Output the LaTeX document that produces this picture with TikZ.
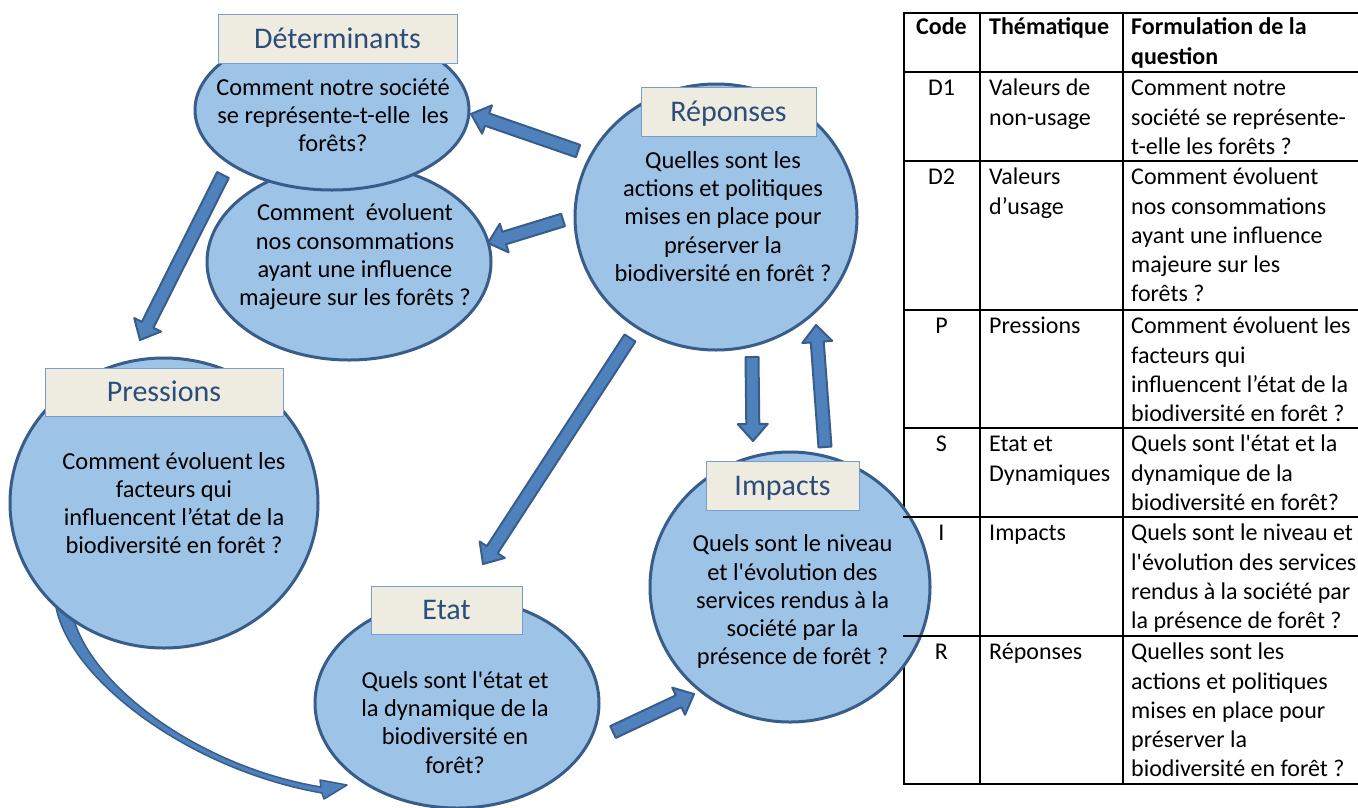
\documentclass[tikz,border=0pt]{standalone}
\usepackage{fontspec}
\setmainfont{Carlito}[Ligatures=TeXOff]
\usetikzlibrary{shapes.geometric,calc}
\definecolor{ellfill}{HTML}{9DC3E6}
\definecolor{elldraw}{HTML}{385D8A}
\definecolor{arrfill}{HTML}{4F81BD}
\definecolor{labfill}{HTML}{EEECE1}
\definecolor{labdraw}{HTML}{7A9CCB}
\definecolor{labtext}{HTML}{2C4D7A}
\newcommand\blockarrow[2]{%
  \draw[blockarr] ($(#1)!6.5pt!90:(#2)$) -- ($(#2)!17pt!(#1)!6.5pt!90:(#2)$) -- ($(#2)!17pt!(#1)!15pt!90:(#2)$) -- (#2) -- ($(#2)!17pt!(#1)!15pt!-90:(#2)$) -- ($(#2)!17pt!(#1)!6.5pt!-90:(#2)$) -- ($(#1)!6.5pt!-90:(#2)$) -- cycle;}
\begin{document}
\begin{tikzpicture}[x=1pt,y=-1pt,
  ell/.style={ellipse, draw=elldraw, fill=ellfill, line width=3pt, inner sep=0pt},
  lab/.style={draw=labdraw, fill=labfill, line width=1pt, inner sep=0pt, font=\fontsize{30}{36}\selectfont, text=labtext, text height=19.3pt, text depth=0pt},
  body/.style={align=center, anchor=north, inner sep=0pt, font=\fontsize{24.4}{28.3}\selectfont},
  blockarr/.style={draw=elldraw, fill=arrfill, line width=2pt, line join=round},
  tab/.style={align=left, anchor=north west, inner sep=0pt, font=\fontsize{24}{29.2}\selectfont},
  tabc/.style={align=center, anchor=north, inner sep=0pt, font=\fontsize{24}{29.2}\selectfont},
  tline/.style={line width=2pt, black}]
\useasboundingbox (0,0) rectangle (1358,807);
\fill[white] (0,0) rectangle (1358,807);

% table left border (under the Impacts ellipse)
\draw[tline] (904,13) -- (904,784);

% curved arrow Pressions -> Etat
\coordinate (cs) at (63,606);
\coordinate (ce) at (347,785);
\draw[blockarr, line width=1.5pt] (56,607) .. controls (70,680) and (190,770) .. (322,793)
  -- (324,799) -- (ce) -- (320,780) -- (321,787)
  .. controls (194,766) and (80,678) .. (71,606) -- cycle;

% ellipses
\node[ell, minimum width=284pt, minimum height=196pt] (D2) at (349,262) {};
\node[ell, minimum width=274pt, minimum height=160pt] (D1) at (332,110) {};
\node[ell, minimum width=282pt, minimum height=266pt] (R) at (716,217) {};
\node[ell, minimum width=308pt, minimum height=290pt] (P) at (164,503) {};
\node[ell, minimum width=284pt, minimum height=210pt] (S) at (457,703) {};
\node[ell, minimum width=280pt, minimum height=270pt] (I) at (790,587) {};

% labels
\node[lab, minimum width=239pt, minimum height=49pt] (Dl) at (337.5,38.5) {Déterminants};
\node[lab, minimum width=175pt, minimum height=49pt] (Rl) at (728.5,111.5) {Réponses};
\node[lab, minimum width=238pt, minimum height=48pt] (Pl) at (164,392) {Pressions};
\node[lab, minimum width=151pt, minimum height=48pt] (Sl) at (446.5,610) {Etat};
\node[lab, minimum width=153pt, minimum height=49pt] (Il) at (782.5,485.5) {Impacts};

% ellipse texts
\node[body] (D1t) at (333,75) {\strut Comment notre société\\se représente-t-elle\ \ les\\forêts?};
\node[body] (D2t) at (355,200.7) {\strut Comment\ \ évoluent\\nos consommations\\ayant une influence\\majeure sur les forêts ?};
\node[body] (Rt) at (723,148.3) {\strut Quelles sont les\\actions et politiques\\mises en place pour\\préserver la\\biodiversité en forêt ?};
\node[body] (Pt) at (174,449) {\strut Comment évoluent les\\facteurs qui\\influencent l’état de la\\biodiversité en forêt ?};
\node[body] (St) at (455,668.3) {\strut Quels sont l'état et\\la dynamique de la\\biodiversité en\\forêt?};
\node[body] (It) at (792.5,531.7) {\strut Quels sont le niveau\\et l'évolution des\\services rendus à la\\société par la\\présence de forêt ?};

% block arrows
\coordinate (a1s) at (578,151); \coordinate (a1e) at (471,114);
\coordinate (a2s) at (563,220); \coordinate (a2e) at (488,243);
\coordinate (a3s) at (223,175); \coordinate (a3e) at (140,340);
\coordinate (a4s) at (630,338); \coordinate (a4e) at (483,564);
\coordinate (a5s) at (752,357); \coordinate (a5e) at (753,441);
\coordinate (a6s) at (825,447); \coordinate (a6e) at (816,325);
\coordinate (a7s) at (613,732); \coordinate (a7e) at (694,694);
\blockarrow{a1s}{a1e}
\blockarrow{a2s}{a2e}
\blockarrow{a3s}{a3e}
\blockarrow{a4s}{a4e}
\blockarrow{a5s}{a5e}
\blockarrow{a6s}{a6e}
\blockarrow{a7s}{a7e}

% table grid
\foreach \yy in {13,72,161,310,428,517,636,784} \draw[tline] (903,\yy) -- (1358,\yy);
\draw[tline] (980,13) -- (980,784);
\draw[tline] (1123,13) -- (1123,784);

% table header
\node[tabc] (h1) at (941.5,14.3) {\strut\bfseries Code};
\node[tab] (h2) at (989,14.3) {\strut\bfseries Thématique};
\node[tab] (h3) at (1131,14.3) {\strut\bfseries Formulation de la\\\bfseries question};
% rows
\node[tabc] (c1) at (941.5,75.3) {\strut D1};
\node[tab] (m1) at (989,75.3) {\strut Valeurs de\\non-usage};
\node[tab] (q1) at (1131,75.3) {\strut Comment notre\\société se représente-\\t-elle les forêts ?};
\node[tabc] (c2) at (941.5,164.3) {\strut D2};
\node[tab] (m2) at (989,164.3) {\strut Valeurs\\d’usage};
\node[tab] (q2) at (1131,164.3) {\strut Comment évoluent\\nos consommations\\ayant une influence\\majeure sur les\\forêts ?};
\node[tabc] (c3) at (941.5,313.3) {\strut P};
\node[tab] (m3) at (989,313.3) {\strut Pressions};
\node[tab] (q3) at (1131,313.3) {\strut Comment évoluent les\\facteurs qui\\influencent l’état de la\\biodiversité en forêt ?};
\node[tabc] (c4) at (941.5,431.3) {\strut S};
\node[tab] (m4) at (989,431.3) {\strut Etat et\\Dynamiques};
\node[tab] (q4) at (1131,431.3) {\strut Quels sont l'état et la\\dynamique de la\\biodiversité en forêt?};
\node[tabc] (c5) at (941.5,520.3) {\strut I};
\node[tab] (m5) at (989,520.3) {\strut Impacts};
\node[tab] (q5) at (1131,520.3) {\strut Quels sont le niveau et\\l'évolution des services\\rendus à la société par\\la présence de forêt ?};
\node[tabc] (c6) at (941.5,639.3) {\strut R};
\node[tab] (m6) at (989,639.3) {\strut Réponses};
\node[tab] (q6) at (1131,639.3) {\strut Quelles sont les\\actions et politiques\\mises en place pour\\préserver la\\biodiversité en forêt ?};
\end{tikzpicture}
\end{document}
